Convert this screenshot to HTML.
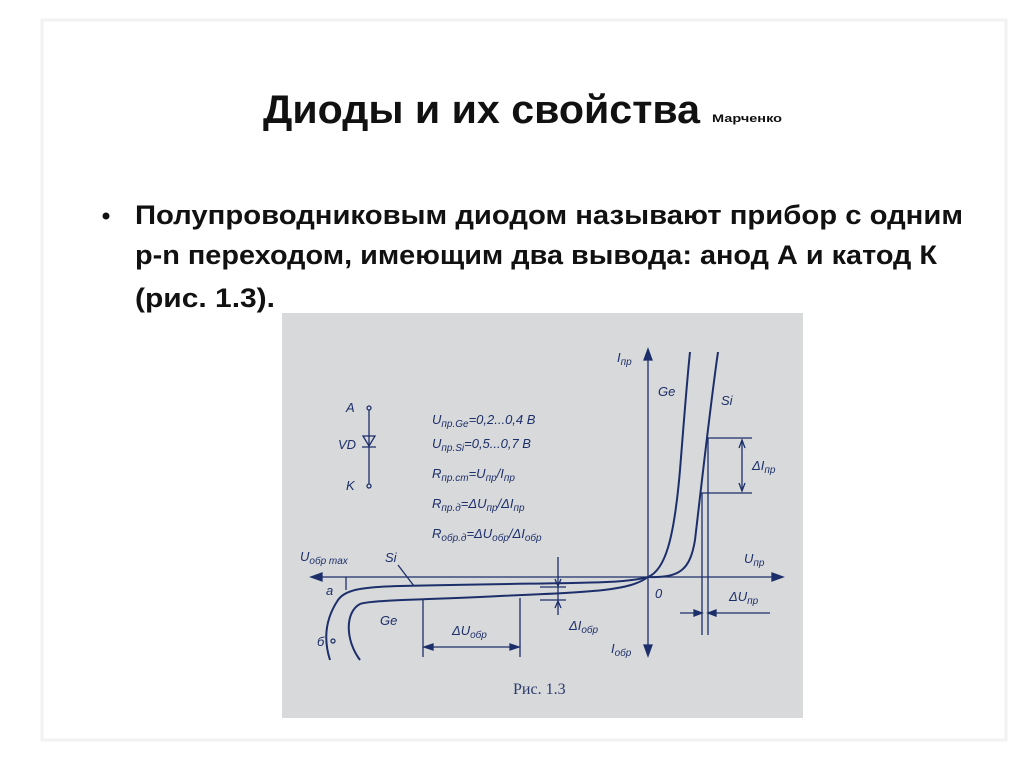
<!DOCTYPE html>
<html><head><meta charset="utf-8"><style>
html,body{margin:0;padding:0;background:#fff;}
svg{display:block;}
</style></head><body>
<svg width="1024" height="767" viewBox="0 0 1024 767" xmlns="http://www.w3.org/2000/svg">
<rect x="0" y="0" width="1024" height="767" fill="#fff"/>
<rect x="42" y="20" width="964" height="720" fill="none" stroke="#f2f2f2" stroke-width="3"/>
<g font-family="Liberation Sans, sans-serif" font-weight="bold" fill="#111">
<text x="263" y="123" font-size="40" textLength="437" lengthAdjust="spacingAndGlyphs">Диоды и их свойства</text>
<text x="712" y="122" font-size="11" textLength="70" lengthAdjust="spacingAndGlyphs">Марченко</text>
<circle cx="106" cy="216" r="3.5" fill="#111"/>
<text x="135" y="224" font-size="27" textLength="828" lengthAdjust="spacingAndGlyphs">Полупроводниковым диодом называют прибор с одним</text>
<text x="135" y="264" font-size="27" textLength="802" lengthAdjust="spacingAndGlyphs">p-n переходом, имеющим два вывода: анод А и катод К</text>
<text x="135" y="307" font-size="27" textLength="140" lengthAdjust="spacingAndGlyphs">(рис. 1.3).</text>
</g>
<rect x="282" y="313" width="521" height="405" fill="#d8d9db"/>
<g stroke="#1d2f6a" fill="none" stroke-width="1.3">
<line x1="648" y1="352" x2="648" y2="653"/>
<path d="M644 360 L648 349 L652 360 Z M644 645 L648 656 L652 645 Z" fill="#1d2f6a"/>
<line x1="313" y1="577" x2="780" y2="577"/>
<path d="M322 573 L311 577 L322 581 Z M772 573 L783 577 L772 581 Z" fill="#1d2f6a"/>
<path d="M648 577 C665 570 674 540 680 470 C684 420 687 380 690 352" stroke-width="2"/>
<path d="M648 577 C680 578 690 570 695 540 C702 480 711 400 718 352" stroke-width="2"/>
<path d="M648 577 C620 585 560 582 400 586 C360 587 345 590 338 600 C328 615 322 635 330 660" stroke-width="2"/>
<path d="M648 577 C630 590 600 592 500 596 C420 600 370 600 360 604 C345 612 345 640 360 660" stroke-width="2"/>
<line x1="708" y1="438" x2="752" y2="438"/>
<line x1="700" y1="493" x2="752" y2="493"/>
<line x1="742" y1="442" x2="742" y2="489"/>
<path d="M739 448 L742 440 L745 448 M739 483 L742 491 L745 483"/>
<line x1="702" y1="493" x2="702" y2="635"/>
<line x1="708" y1="438" x2="708" y2="635"/>
<line x1="680" y1="613" x2="702" y2="613"/>
<line x1="708" y1="613" x2="770" y2="613"/>
<path d="M694 610 L702 613 L694 616 Z M716 610 L708 613 L716 616 Z" fill="#1d2f6a"/>
<line x1="423" y1="600" x2="423" y2="657"/>
<line x1="520" y1="598" x2="520" y2="657"/>
<line x1="425" y1="647" x2="518" y2="647"/>
<path d="M433 644 L424 647 L433 650 Z M510 644 L519 647 L510 650 Z" fill="#1d2f6a"/>
<line x1="558" y1="557" x2="558" y2="615"/>
<line x1="540" y1="587" x2="566" y2="587"/>
<line x1="540" y1="600" x2="566" y2="600"/>
<path d="M555 579 L558 586 L561 579 M555 608 L558 601 L561 608"/>
<line x1="346" y1="577" x2="346" y2="590"/>
<line x1="398" y1="565" x2="414" y2="586"/>
<line x1="369" y1="410" x2="369" y2="484"/>
<circle cx="369" cy="408" r="2" fill="#d8d9db"/>
<circle cx="369" cy="486" r="2" fill="#d8d9db"/>
<path d="M363 436 L375 436 L369 446 Z M362 447 L376 447"/>
<circle cx="333" cy="641" r="2" fill="#d8d9db"/>
</g>
<g font-family="Liberation Sans, sans-serif" font-style="italic" fill="#1d2f6a" font-size="13">
<text x="346" y="412">A</text>
<text x="338" y="449">VD</text>
<text x="346" y="490">K</text>
<text x="432" y="424">U<tspan font-size="10" dy="3">пр.Ge</tspan><tspan dy="-3">=0,2...0,4 B</tspan></text>
<text x="432" y="448">U<tspan font-size="10" dy="3">пр.Si</tspan><tspan dy="-3">=0,5...0,7 B</tspan></text>
<text x="432" y="478">R<tspan font-size="10" dy="3">пр.ст</tspan><tspan dy="-3">=U</tspan><tspan font-size="10" dy="3">пр</tspan><tspan dy="-3">/I</tspan><tspan font-size="10" dy="3">пр</tspan></text>
<text x="432" y="508">R<tspan font-size="10" dy="3">пр.д</tspan><tspan dy="-3">=ΔU</tspan><tspan font-size="10" dy="3">пр</tspan><tspan dy="-3">/ΔI</tspan><tspan font-size="10" dy="3">пр</tspan></text>
<text x="432" y="538">R<tspan font-size="10" dy="3">обр.д</tspan><tspan dy="-3">=ΔU</tspan><tspan font-size="10" dy="3">обр</tspan><tspan dy="-3">/ΔI</tspan><tspan font-size="10" dy="3">обр</tspan></text>
<text x="617" y="362">I<tspan font-size="10" dy="3">пр</tspan></text>
<text x="658" y="396">Ge</text>
<text x="721" y="405">Si</text>
<text x="752" y="470">ΔI<tspan font-size="10" dy="3">пр</tspan></text>
<text x="744" y="563">U<tspan font-size="10" dy="3">пр</tspan></text>
<text x="655" y="598">0</text>
<text x="729" y="601">ΔU<tspan font-size="10" dy="3">пр</tspan></text>
<text x="300" y="561">U<tspan font-size="10" dy="3">обр max</tspan></text>
<text x="385" y="562">Si</text>
<text x="326" y="595">a</text>
<text x="317" y="646">б</text>
<text x="380" y="625">Ge</text>
<text x="452" y="635">ΔU<tspan font-size="10" dy="3">обр</tspan></text>
<text x="569" y="630">ΔI<tspan font-size="10" dy="3">обр</tspan></text>
<text x="611" y="653">I<tspan font-size="10" dy="3">обр</tspan></text>
</g>
<text x="513" y="694" font-family="Liberation Serif, serif" font-size="16" fill="#2a3a6a">Рис. 1.3</text>
</svg>
</body></html>
